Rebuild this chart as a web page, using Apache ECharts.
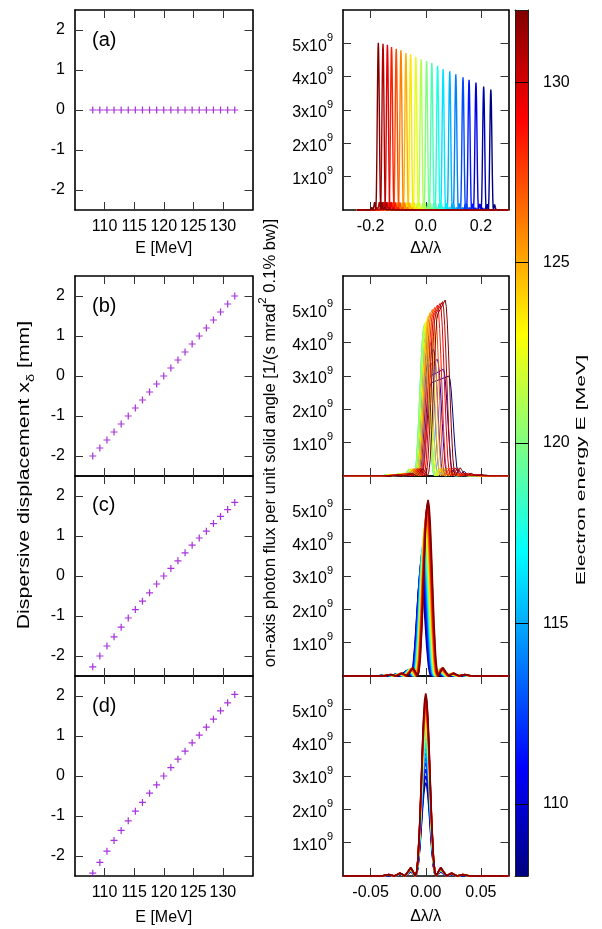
<!DOCTYPE html>
<html><head><meta charset="utf-8">
<script src="https://cdn.jsdelivr.net/npm/echarts@6/dist/echarts.min.js"></script>
<style>html,body{margin:0;padding:0;background:#fff}#c{width:602px;height:929px}</style>
</head><body><div id="c"></div>
<script>
// ---------- data ----------
const energies = [108,109.2,110.4,111.6,112.8,114,115.2,116.4,117.6,118.8,120,121.2,122.4,123.6,124.8,126,127.2,128.4,129.6,130.8,132];
// dispersive displacement [mm]
const dispA = [0,0,0,0,0,0,0,0,0,0,0,0,0,0,0,0,0,0,0,0,0];
const dispB = [-2,-1.8,-1.6,-1.4,-1.2,-1,-0.8,-0.6,-0.4,-0.2,0,0.2,0.4,0.6,0.8,1,1.2,1.4,1.6,1.8,2];
const dispC = [-2.27,-2.0,-1.75,-1.52,-1.28,-1.05,-0.84,-0.63,-0.42,-0.2,0,0.19,0.38,0.58,0.77,0.95,1.12,1.31,1.49,1.66,1.84];
const dispD = [-2.43,-2.16,-1.88,-1.61,-1.36,-1.12,-0.88,-0.66,-0.43,-0.22,0,0.21,0.42,0.62,0.83,1.02,1.22,1.42,1.63,1.83,2.04];
// spectral line profile (offset in dl/l, relative height)
const profileOffset = [-0.040,-0.0335,-0.0285,-0.026,-0.0235,-0.021,-0.019,-0.0162,-0.0136,-0.0114,-0.0095,-0.0082,-0.007,-0.0055,-0.0045,-0.003,-0.002,-0.001,0,0.001,0.002,0.003,0.0045,0.0055,0.007,0.0082,0.0095,0.0114,0.0136,0.0162,0.019,0.021,0.0235,0.026,0.0285,0.0335,0.040];
const profileShape  = [0,0.008,0,0.007,0.016,0.008,0,0.023,0.047,0.024,0,0.024,0.10,0.284,0.449,0.711,0.863,0.964,1,0.964,0.863,0.711,0.449,0.284,0.10,0.024,0,0.024,0.047,0.023,0,0.008,0.016,0.007,0,0.008,0];
// panel (a): line centre and peak flux [1e9]
const centerA = [0.236,0.21,0.182,0.157,0.135,0.109,0.087,0.063,0.043,0.022,0.003,-0.017,-0.036,-0.055,-0.072,-0.090,-0.107,-0.124,-0.139,-0.155,-0.172];
const peakA   = [3.61,3.70,3.82,3.91,3.98,4.07,4.16,4.23,4.33,4.42,4.47,4.52,4.60,4.67,4.71,4.79,4.84,4.89,4.96,4.99,5.02];
// panel (b): flat-top lines: start of top, end of top, height at start, height at end
const startB = [0.005,0.004,0.003,0.002,0.001,0.0,-0.0005,-0.001,-0.0015,-0.0015,-0.0015,-0.001,0.0,0.0012,0.002,0.003,0.0045,0.006,0.0075,0.009,0.011];
const endB   = [0.021,0.016,0.0105,0.007,0.004,0.002,0.0,-0.001,-0.0015,-0.0015,-0.0015,-0.001,0.0,0.0015,0.0039,0.006,0.0082,0.0106,0.013,0.0152,0.0176];
const kneeB  = [2.8,3.0,3.3,3.5,3.75,3.95,4.15,4.3,4.4,4.48,4.52,4.58,4.64,4.68,4.72,4.75,4.78,4.8,4.83,4.85,4.87];
const peakB  = [3.0,3.2,3.5,3.8,4.0,4.2,4.35,4.45,4.5,4.52,4.55,4.6,4.66,4.78,4.9,5.0,5.06,5.13,5.18,5.23,5.28];
// panel (c)
const centerC = [-0.0045,-0.0041,-0.0037,-0.0033,-0.0029,-0.0025,-0.0021,-0.0018,-0.0015,-0.0012,-0.0009,-0.0006,-0.0003,0.0,0.0003,0.0006,0.0009,0.0012,0.0015,0.0018,0.0021];
const peakC   = [3.0,3.25,3.45,3.6,3.75,3.85,3.95,4.05,4.15,4.25,4.35,4.45,4.55,4.65,4.75,4.85,4.95,5.05,5.12,5.2,5.28];
// panel (d)
const centerD = [0,0,0,0,0,0,0,0,0,0,0,0,0,0,0,0,0,0,0,0,0];
const peakD   = [2.8,3.0,3.2,3.4,3.55,3.7,3.85,4.0,4.15,4.3,4.45,4.55,4.65,4.75,4.85,4.95,5.05,5.15,5.25,5.37,5.48];
// ticks
const eTicks = [110,115,120,125,130];
const xdTicks = [-2,-1,0,1,2];
const dlWideTicks = [-0.2,0,0.2];
const dlNarrowTicks = [-0.05,0,0.05];
const fluxTicks = [1,2,3,4,5];
const cbTicks = [110,115,120,125,130];
const cbRange = [108,132];

// ---------- helpers ----------
const FONT = 'Liberation Sans, Arial, Helvetica, sans-serif';
function jet(e){
  const t=(e-cbRange[0])/(cbRange[1]-cbRange[0]);
  const f=v=>Math.round(255*Math.max(0,Math.min(1,v)));
  return `rgb(${f(1.5-Math.abs(4*t-3))},${f(1.5-Math.abs(4*t-2))},${f(1.5-Math.abs(4*t-1))})`;
}
const jetStops = [0,1,2,3,4,5,6,7,8].map(k=>({offset:k/8,color:jet(cbRange[0]+k/8*(cbRange[1]-cbRange[0]))}));
function lineCurve(c,h,lo,hi){
  const p=[[lo,0]];
  profileOffset.forEach((o,k)=>p.push([c+o,h*profileShape[k]]));
  p.push([hi,0]); return p;
}
function topCurve(l,r,kn,h,lo,hi){
  const p=[[lo,0]];
  profileOffset.forEach((o,k)=>{ if(o<=0) p.push([l+o,kn*profileShape[k]]); });
  profileOffset.forEach((o,k)=>{ if(o>=0) p.push([r+o,h*profileShape[k]]); });
  p.push([hi,0]); return p;
}

const grids=[], xAxes=[], yAxes=[], series=[];
const LG={left:75,width:177.5}, RG={left:343,width:165.5};
const rows=[{top:10,height:200},{top:276,height:200},{top:476,height:200},{top:676,height:200}];
const frame={show:true,onZero:false,lineStyle:{color:'#000',width:1.6}};
const lblStyle={fontSize:16,color:'#000',fontFamily:FONT};

function addPanel(pos,row,xr,yr,xt,yt,xfmt,yfmt,showX,xname,nameGap){
  const g=grids.length;
  grids.push({left:pos.left,width:pos.width,top:row.top,height:row.height});
  const xBase={gridIndex:g,type:'value',min:xr[0],max:xr[1],axisLine:frame,splitLine:{show:false},
    axisTick:{show:true,inside:true,length:8,customValues:xt,lineStyle:{color:'#333',width:1}}};
  xAxes.push(Object.assign({},xBase,{position:'bottom',
    axisLabel:{show:showX,customValues:xt,formatter:xfmt,margin:9,...lblStyle},
    name:showX?xname:'',nameLocation:'middle',nameGap:nameGap,nameTextStyle:{fontSize:16,color:'#000',fontFamily:FONT}}));
  xAxes.push(Object.assign({},xBase,{position:'top',axisLabel:{show:false}}));
  const yBase={gridIndex:g,type:'value',min:yr[0],max:yr[1],axisLine:frame,splitLine:{show:false},
    axisTick:{show:true,inside:true,length:8,customValues:yt,lineStyle:{color:'#333',width:1}}};
  yAxes.push(Object.assign({},yBase,{position:'left',axisLabel:{show:true,customValues:yt,formatter:yfmt,margin:10,...lblStyle,
    rich:{m:{fontSize:16,fontFamily:FONT,color:'#000',lineHeight:22,verticalAlign:'bottom'},s:{fontSize:11,fontFamily:FONT,color:'#000',verticalAlign:'top'}}}}));
  yAxes.push(Object.assign({},yBase,{position:'right',axisLabel:{show:false}}));
  return {x:xAxes.length-2,y:yAxes.length-2};
}

const dispSets=[dispA,dispB,dispC,dispD];
const letters=['(a)','(b)','(c)','(d)'];
const plusPath='path://M3.3,0H4.7V3.3H8V4.7H4.7V8H3.3V4.7H0V3.3H3.3Z';
rows.forEach((row,i)=>{
  const showX=(i===0||i===3);
  const gap=i===0?31:34;
  const a=addPanel(LG,row,[105,135],[-2.5,2.5],eTicks,xdTicks,v=>String(v),v=>String(v),showX,'E [MeV]',gap);
  series.push({type:'scatter',xAxisIndex:a.x,yAxisIndex:a.y,symbol:plusPath,symbolSize:7,
    itemStyle:{color:'#9400d3'},data:energies.map((e,k)=>[e,dispSets[i][k]]),z:3});
});
rows.forEach((row,i)=>{
  const showX=(i===0||i===3);
  const gap=i===0?31:33;
  const wide=i===0;
  const xr=wide?[-0.3,0.3]:[-0.075,0.075];
  const lo=wide?-0.25:-0.075, hi=wide?0.3:0.075;
  const a=addPanel(RG,row,xr,[0,6],wide?dlWideTicks:dlNarrowTicks,fluxTicks,
    v=>wide?v.toFixed(1):v.toFixed(2),v=>`{m|${v}x10}{s|9}`,showX,'Δλ/λ',gap);
  energies.forEach((e,k)=>{
    let d;
    if(i===0) d=lineCurve(centerA[k],peakA[k],lo,hi);
    else if(i===1) d=topCurve(startB[k],endB[k],kneeB[k],peakB[k],lo,hi);
    else if(i===2) d=lineCurve(centerC[k],peakC[k],lo,hi);
    else d=lineCurve(centerD[k],peakD[k],lo,hi);
    series.push({type:'line',xAxisIndex:a.x,yAxisIndex:a.y,data:d,showSymbol:false,symbol:'none',
      lineStyle:{color:jet(e),width:(i>=2)?1.6:(i===0?1.4:1)},z:2+k*0.01,silent:true});
  });
});
// colour bar
const cg=grids.length;
grids.push({left:515,width:13,top:10,height:866});
const cbLine={show:true,onZero:false,lineStyle:{color:'#222',width:1}};
xAxes.push({gridIndex:cg,type:'value',min:0,max:1,position:'bottom',axisLine:cbLine,axisTick:{show:false},axisLabel:{show:false},splitLine:{show:false},z:5});
xAxes.push({gridIndex:cg,type:'value',min:0,max:1,position:'top',axisLine:cbLine,axisTick:{show:false},axisLabel:{show:false},splitLine:{show:false},z:5});
yAxes.push({gridIndex:cg,type:'value',min:cbRange[0],max:cbRange[1],position:'left',axisLine:cbLine,axisTick:{show:false},axisLabel:{show:false},splitLine:{show:false},z:5});
yAxes.push({gridIndex:cg,type:'value',min:cbRange[0],max:cbRange[1],position:'right',axisLine:cbLine,
  axisTick:{show:true,inside:true,length:13,customValues:cbTicks,lineStyle:{color:'#000',width:1}},
  axisLabel:{show:true,customValues:cbTicks,margin:15,...lblStyle},splitLine:{show:false},z:5});
series.push({type:'custom',xAxisIndex:xAxes.length-2,yAxisIndex:yAxes.length-1,silent:true,
  data:[[0,1,cbRange[0],cbRange[1]]],
  renderItem:(p,api)=>{
    const a=api.coord([api.value(0),api.value(2)]), b=api.coord([api.value(1),api.value(3)]);
    return {type:'rect',shape:{x:a[0],y:b[1],width:b[0]-a[0],height:a[1]-b[1]},
      style:{fill:new echarts.graphic.LinearGradient(0,1,0,0,jetStops)}};
  },z:1});

const graphic=[
  {type:'text',x:25,y:475,rotation:Math.PI/2,scaleX:1.33,style:{text:'{n|Dispersive displacement x}{s|δ}{n| [mm]}',align:'center',verticalAlign:'middle',
    rich:{n:{fontSize:16,fontFamily:FONT,fill:'#000',lineHeight:22,verticalAlign:'middle'},s:{fontSize:11,fontFamily:FONT,fill:'#000',verticalAlign:'bottom'}}}},
  {type:'text',x:268,y:443,rotation:Math.PI/2,scaleX:1.04,style:{text:'{n|on-axis photon flux per unit solid angle [1/(s mrad}{s|2}{n| 0.1% bw)]}',align:'center',verticalAlign:'middle',
    rich:{n:{fontSize:16,fontFamily:FONT,fill:'#000',lineHeight:22,verticalAlign:'bottom'},s:{fontSize:11,fontFamily:FONT,fill:'#000',verticalAlign:'top'}}}},
  {type:'text',x:582,y:470,rotation:Math.PI/2,scaleX:1.7,style:{text:'Electron energy E [MeV]',align:'center',verticalAlign:'middle',fontSize:12.5,fontFamily:FONT,fill:'#000'}}
];
[40,306,505,706].forEach((y,i)=>graphic.push({type:'text',x:92,y:y,style:{text:letters[i],fontSize:20,fontFamily:FONT,fill:'#000',align:'left',verticalAlign:'middle'}}));

const chart=echarts.init(document.getElementById('c'),null,{renderer:'canvas'});
chart.setOption({animation:false,backgroundColor:'#fff',grid:grids,xAxis:xAxes,yAxis:yAxes,series:series,graphic:graphic});
</script></body></html>
